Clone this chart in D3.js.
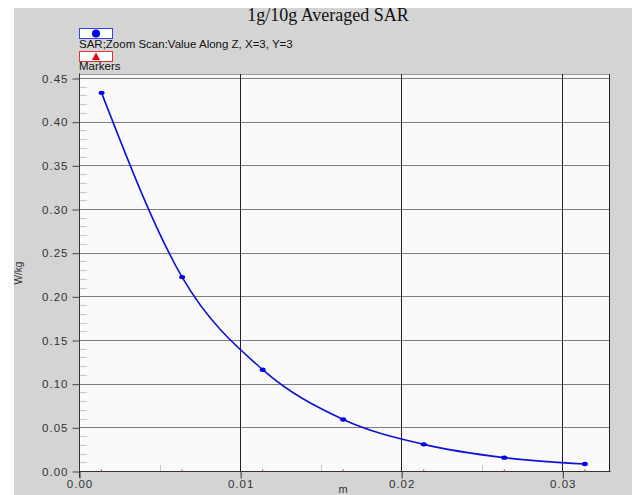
<!DOCTYPE html>
<html>
<head>
<meta charset="utf-8">
<script src="https://cdn.jsdelivr.net/npm/d3@7"></script>
<style>
  body { margin: 0; background: #fff; }
  svg text { font-family: "Liberation Sans", Arial, sans-serif; }
</style>
</head>
<body>
<svg id="svg" width="632" height="495"></svg>
<script>
// data
var distance = [0.0014, 0.0064, 0.0114, 0.0164, 0.0214, 0.0264, 0.0314]
var sar = [0.433, 0.222, 0.116, 0.059, 0.0305, 0.0153, 0.008]
var xTicks = [0, 0.01, 0.02, 0.03]
var xMinor = [0.005, 0.015, 0.025]
var yTicks = [0, 0.05, 0.10, 0.15, 0.20, 0.25, 0.30, 0.35, 0.40, 0.45]

var svg = d3.select('#svg')

// grey frame
svg.append('rect')
    .attr('x', 14).attr('y', 8)
    .attr('width', 618).attr('height', 487)
    .style('fill', '#d4d4d4')

// plot box (window.top is reserved, so keep these in an object)
var box = { left: 79, right: 609, top: 74, bottom: 471 }

var x = d3.scaleLinear().domain([0, 0.0329]).range([box.left, box.right])
var y = d3.scaleLinear().domain([0, 0.45]).range([box.bottom, 78])

// plot area
svg.append('rect')
    .attr('x', box.left).attr('y', box.top)
    .attr('width', box.right - box.left).attr('height', box.bottom - box.top)
    .style('fill', '#fafafa')

// title
svg.append('text')
    .attr('x', 328).attr('y', 21)
    .attr('text-anchor', 'middle')
    .style('font-family', '"Liberation Serif", "Times New Roman", serif')
    .style('font-size', '18px')
    .style('fill', '#111')
    .text('1g/10g Averaged SAR')

// legend
svg.append('rect')
    .attr('x', 79.5).attr('y', 28.5).attr('width', 33).attr('height', 10)
    .style('fill', '#fff').style('stroke', '#3344dd')
svg.append('circle')
    .attr('cx', 96).attr('cy', 33.5).attr('r', 4)
    .style('fill', '#0000ee')
svg.append('text')
    .attr('x', 79).attr('y', 48)
    .style('font-size', '11.5px').style('fill', '#111')
    .text('SAR;Zoom Scan:Value Along Z, X=3, Y=3')

svg.append('rect')
    .attr('x', 79.5).attr('y', 51.5).attr('width', 33).attr('height', 10)
    .style('fill', '#fff').style('stroke', '#dd3333')
svg.append('path')
    .attr('d', 'M96,52.5 L100,60 L92,60 Z')
    .style('fill', '#ee0000')
svg.append('text')
    .attr('x', 79).attr('y', 70)
    .style('font-size', '11.5px').style('fill', '#111')
    .text('Markers')

// minor y ticks inside
var yMinor = d3.range(1, 45).map(function(i) { return i / 100 })
    .filter(function(v) { return Math.round(v * 100) % 5 != 0 })
svg.selectAll('.yminor').data(yMinor).enter().append('line')
    .attr('class', 'yminor')
    .attr('x1', box.left).attr('x2', box.left + 8)
    .attr('y1', function(d) { return Math.round(y(d)) + 0.5 })
    .attr('y2', function(d) { return Math.round(y(d)) + 0.5 })
    .style('stroke', '#c8c8c8')

// minor x ticks inside
svg.selectAll('.xminor').data(xMinor).enter().append('line')
    .attr('class', 'xminor')
    .attr('x1', function(d) { return Math.round(x(d)) + 0.5 })
    .attr('x2', function(d) { return Math.round(x(d)) + 0.5 })
    .attr('y1', box.bottom - 6).attr('y2', box.bottom)
    .style('stroke', '#c8c8c8')

// horizontal gridlines
svg.selectAll('.hgrid').data(yTicks.slice(1)).enter().append('line')
    .attr('class', 'hgrid')
    .attr('x1', box.left).attr('x2', box.right)
    .attr('y1', function(d) { return Math.round(y(d)) + 0.5 })
    .attr('y2', function(d) { return Math.round(y(d)) + 0.5 })
    .style('stroke', '#7e7e7e')

// top border
svg.append('line')
    .attr('x1', box.left).attr('x2', box.right)
    .attr('y1', box.top + 0.5).attr('y2', box.top + 0.5)
    .style('stroke', '#9a9a9a')

// vertical gridlines
svg.selectAll('.vgrid').data(xTicks.slice(1)).enter().append('line')
    .attr('class', 'vgrid')
    .attr('x1', function(d) { return Math.round(x(d)) + 0.5 })
    .attr('x2', function(d) { return Math.round(x(d)) + 0.5 })
    .attr('y1', box.top).attr('y2', box.bottom)
    .style('stroke', '#222')

// right border
svg.append('line')
    .attr('x1', box.right + 0.5).attr('x2', box.right + 0.5)
    .attr('y1', box.top).attr('y2', box.bottom)
    .style('stroke', '#222')

// axes
var yAxis = d3.axisLeft(y).tickValues(yTicks).tickSize(7).tickPadding(4)
    .tickFormat(d3.format('.2f'))
var gy = svg.append('g')
    .attr('transform', 'translate(' + (box.left + 0.5) + ',0.5)')
    .call(yAxis)
gy.select('.domain').attr('d', 'M0,' + (box.top - 1) + 'V' + (box.bottom + 6))
    .style('stroke', '#333')
gy.selectAll('.tick line').style('stroke', '#444')
gy.selectAll('.tick text')
    .style('font-size', '11.5px').style('fill', '#333')
    .style('letter-spacing', '1px')

var xAxis = d3.axisBottom(x).tickValues(xTicks).tickSize(7).tickPadding(1)
    .tickFormat(d3.format('.2f'))
var gx = svg.append('g')
    .attr('transform', 'translate(0.5,' + (box.bottom + 0.5) + ')')
    .call(xAxis)
gx.select('.domain').attr('d', 'M' + box.left + ',0H' + (box.right + 1))
    .style('stroke', '#333')
gx.selectAll('.tick line').style('stroke', '#333')
gx.selectAll('.tick text')
    .style('font-size', '11.5px').style('fill', '#333')
    .style('letter-spacing', '1px')

// axis titles
svg.append('text')
    .attr('transform', 'translate(22,273) rotate(-90)')
    .attr('text-anchor', 'middle')
    .style('font-size', '10px').style('fill', '#333')
    .text('W/kg')
svg.append('text')
    .attr('x', 343).attr('y', 493)
    .attr('text-anchor', 'middle')
    .style('font-size', '11px').style('fill', '#333')
    .text('m')

// red marker ticks at data x
svg.selectAll('.mark').data(distance).enter().append('line')
    .attr('class', 'mark')
    .attr('x1', function(d) { return x(d) })
    .attr('x2', function(d) { return x(d) })
    .attr('y1', box.bottom - 1.5).attr('y2', box.bottom + 0.5)
    .style('stroke', '#cc3333')

// curve
var pts = distance.map(function(d, i) { return [d, sar[i]] })
var line = d3.line()
    .x(function(d) { return x(d[0]) })
    .y(function(d) { return y(d[1]) })
    .curve(d3.curveMonotoneX)
svg.append('path')
    .datum(pts)
    .attr('d', line)
    .style('fill', 'none')
    .style('stroke', '#1010d8')
    .style('stroke-width', 1.6)

svg.selectAll('.pt').data(pts).enter().append('ellipse')
    .attr('class', 'pt')
    .attr('cx', function(d) { return x(d[0]) })
    .attr('cy', function(d) { return y(d[1]) })
    .attr('rx', 3).attr('ry', 2.2)
    .style('fill', '#0000ee')
</script>
</body>
</html>
